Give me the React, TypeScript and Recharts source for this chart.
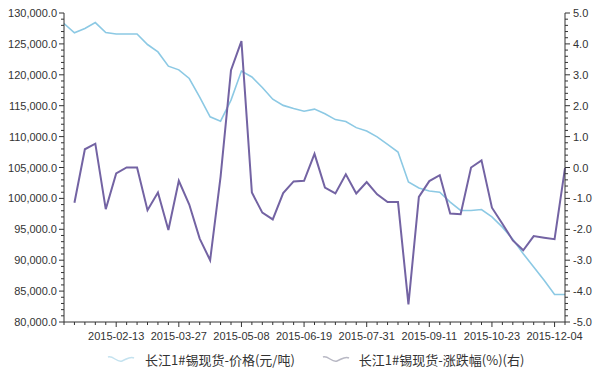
import { LineChart, Line, XAxis, YAxis, Legend } from 'recharts';

document.body.style.margin = '0';

const DATES = [
  '2015-01-09', '2015-01-16', '2015-01-23', '2015-01-30', '2015-02-06', '2015-02-13', '2015-02-20',
  '2015-02-27', '2015-03-06', '2015-03-13', '2015-03-20', '2015-03-27', '2015-04-03', '2015-04-10',
  '2015-04-17', '2015-04-24', '2015-05-01', '2015-05-08', '2015-05-15', '2015-05-22', '2015-05-29',
  '2015-06-05', '2015-06-12', '2015-06-19', '2015-06-26', '2015-07-03', '2015-07-10', '2015-07-17',
  '2015-07-24', '2015-07-31', '2015-08-07', '2015-08-14', '2015-08-21', '2015-08-28', '2015-09-04',
  '2015-09-11', '2015-09-18', '2015-09-25', '2015-10-02', '2015-10-09', '2015-10-16', '2015-10-23',
  '2015-10-30', '2015-11-06', '2015-11-13', '2015-11-20', '2015-11-27', '2015-12-04', '2015-12-11',
];

// 价格 (元/吨)
const PRICE = [
  128300, 126800, 127500, 128450, 126830, 126600, 126600, 126600, 124900, 123700, 121400, 120800,
  119400, 116400, 113200, 112500, 115900, 120600, 119650, 117950, 116050, 115050, 114550, 114100,
  114450, 113700, 112750, 112450, 111450, 110900, 109950, 108750, 107500, 102650, 101700, 101200,
  101000, 99400, 98050, 98050, 98200, 97000, 95350, 93400, 91050, 88900, 86750, 84450, 84450,
];

// 涨跌幅 (%)
const CHANGE = [
  null, -1.14, 0.59, 0.77, -1.35, -0.19, 0.0, 0.0, -1.38, -0.81, -2.02, -0.43,
  -1.2, -2.3, -3.0, -0.3, 3.15, 4.09, -0.81, -1.46, -1.68, -0.83, -0.45, -0.43,
  0.44, -0.65, -0.84, -0.22, -0.84, -0.47, -0.87, -1.12, -1.12, -4.43, -0.95, -0.44,
  -0.25, -1.49, -1.51, 0.0, 0.23, -1.3, -1.82, -2.36, -2.68, -2.22, -2.27, -2.32, -0.02,
];

const LEFT_MAJOR = [80000, 85000, 90000, 95000, 100000, 105000, 110000, 115000, 120000, 125000, 130000];
const RIGHT_MAJOR = [-5, -4, -3, -2, -1, 0, 1, 2, 3, 4, 5];

const SERIES_NAMES = ['长江1#锡现货-价格(元/吨)', '长江1#锡现货-涨跌幅(%)(右)'];
const BLUE = '#8cc9e4';
const PURPLE = '#7363a3';
const AXIS = '#333';
const FONT = 'Arial, "Liberation Sans", sans-serif';

const data = DATES.map((date, i) => ({ date, price: PRICE[i], change: CHANGE[i] }));

// minor ticks: 5 per major step
const leftTicks: number[] = [];
for (let i = 0; i < LEFT_MAJOR.length - 1; i++) {
  for (let k = 0; k < 5; k++) leftTicks.push(LEFT_MAJOR[i] + k * 1000);
}
leftTicks.push(LEFT_MAJOR[LEFT_MAJOR.length - 1]);

const rightTicks: number[] = [];
for (let i = 0; i < RIGHT_MAJOR.length - 1; i++) {
  for (let k = 0; k < 5; k++) rightTicks.push(Math.round((RIGHT_MAJOR[i] + k * 0.2) * 10) / 10);
}
rightTicks.push(RIGHT_MAJOR[RIGHT_MAJOR.length - 1]);

const XTick = (props: any) => {
  const { x, y, payload, index } = props;
  const major = index % 6 === 5;
  return (
    <g>
      <line x1={x} x2={x} y1={y} y2={y + (major ? 5 : 3)} stroke={AXIS} />
      {major && (
        <text x={x} y={y + 18} textAnchor="middle" fontSize={11} fontFamily={FONT} fill={AXIS}>
          {payload.value}
        </text>
      )}
    </g>
  );
};

const LeftTick = (props: any) => {
  const { x, y, payload } = props;
  const major = LEFT_MAJOR.includes(payload.value);
  return (
    <g>
      <line x1={x - (major ? 5 : 3)} x2={x} y1={y} y2={y} stroke={AXIS} />
      {major && (
        <text x={x - 7} y={y + 4} textAnchor="end" fontSize={11} fontFamily={FONT} fill={AXIS}>
          {payload.value.toLocaleString('en-US', { minimumFractionDigits: 1 })}
        </text>
      )}
    </g>
  );
};

const RightTick = (props: any) => {
  const { x, y, payload } = props;
  const major = RIGHT_MAJOR.includes(payload.value);
  return (
    <g>
      <line x1={x} x2={x + (major ? 5 : 3)} y1={y} y2={y} stroke={AXIS} />
      {major && (
        <text x={x + 8} y={y + 4} textAnchor="start" fontSize={11} fontFamily={FONT} fill={AXIS}>
          {payload.value.toFixed(1)}
        </text>
      )}
    </g>
  );
};

const Wave = ({ color }: { color: string }) => (
  <svg width={28} height={12}>
    <path d="M1,4 C6,2 10,10 15,8 S23,3 27,5" fill="none" stroke={color} strokeWidth={1.5} />
  </svg>
);

const renderLegend = () => (
  <div style={{ display: 'flex', alignItems: 'center', height: 26, paddingLeft: 107 }}>
    <Wave color="#c4e2ef" />
    <span style={{ marginLeft: 10, fontSize: 13, fontFamily: '"Noto Sans CJK SC", sans-serif', color: '#333' }}>
      {SERIES_NAMES[0]}
    </span>
    <span style={{ width: 27 }} />
    <Wave color="#b8b8c4" />
    <span style={{ marginLeft: 9, fontSize: 13, fontFamily: '"Noto Sans CJK SC", sans-serif', color: '#333' }}>
      {SERIES_NAMES[1]}
    </span>
  </div>
);

export default function App() {
  return (
    <div style={{ width: 600, height: 372, background: '#fff' }}>
      <LineChart width={600} height={372} data={data} margin={{ top: 13, right: 0, bottom: 0, left: 0 }}>
        <XAxis
          dataKey="date"
          interval={0}
          height={24}
          stroke={AXIS}
          tickLine={false}
          tickSize={0}
          tickMargin={0}
          tick={XTick}
        />
        <YAxis
          yAxisId="left"
          domain={[80000, 130000]}
          ticks={leftTicks}
          interval={0}
          width={64}
          stroke={AXIS}
          tickLine={false}
          tickSize={0}
          tickMargin={0}
          tick={LeftTick}
        />
        <YAxis
          yAxisId="right"
          orientation="right"
          domain={[-5, 5]}
          ticks={rightTicks}
          interval={0}
          width={35}
          stroke={AXIS}
          tickLine={false}
          tickSize={0}
          tickMargin={0}
          tick={RightTick}
        />
        <Legend verticalAlign="bottom" height={26} content={renderLegend} />
        <Line
          yAxisId="left"
          dataKey="price"
          name={SERIES_NAMES[0]}
          stroke={BLUE}
          strokeWidth={1.6}
          dot={false}
          isAnimationActive={false}
        />
        <Line
          yAxisId="right"
          dataKey="change"
          name={SERIES_NAMES[1]}
          stroke={PURPLE}
          strokeWidth={2}
          dot={false}
          isAnimationActive={false}
        />
      </LineChart>
    </div>
  );
}
